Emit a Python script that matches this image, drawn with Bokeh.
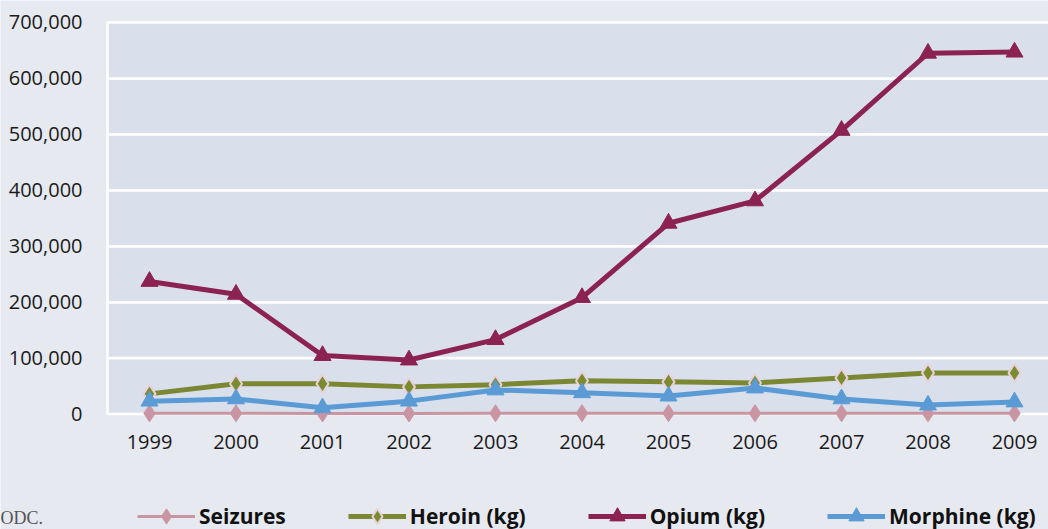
from bokeh.plotting import figure
from bokeh.models import (Range1d, FixedTicker, NumeralTickFormatter, Legend, LegendItem,
                          BoxAnnotation, Label)
from bokeh.embed import file_html
from bokeh.resources import INLINE

years = [1999, 2000, 2001, 2002, 2003, 2004, 2005, 2006, 2007, 2008, 2009]
seizures = [1200, 1300, 900, 1100, 1300, 1400, 1500, 1400, 1300, 1200, 1300]
heroin = [36000, 54000, 54000, 48500, 52500, 59500, 57500, 55500, 64500, 73500, 73500]
opium = [237000, 214000, 104500, 96500, 133000, 208000, 341000, 381000, 507000, 645000, 647000]
morphine = [23000, 27000, 11000, 23000, 43000, 38000, 32000, 46500, 27000, 16000, 21500]
y_ticks = [0, 100000, 200000, 300000, 400000, 500000, 600000, 700000]
series_names = ["Seizures", "Heroin (kg)", "Opium (kg)", "Morphine (kg)"]
source_note = "ODC."

FONT = "Open Sans"
BG = "#e6e9f0"
PLOT_BG = "#d9e0eb"
C_SEI = "#c995a3"
C_HER = "#7c8733"
C_OPI = "#8c2251"
C_MOR = "#5b9bd5"

PLOT_LEFT = 1998.515
p = figure(width=1048, height=529, output_backend="svg", toolbar_location=None,
           x_range=Range1d(1997.2775, 2009.393), y_range=Range1d(-206500, 739300),
           min_border_left=0, min_border_right=0, min_border_top=0, min_border_bottom=0)
p.background_fill_color = BG
p.border_fill_color = BG
p.outline_line_color = None
p.xgrid.grid_line_color = None
p.ygrid.grid_line_color = None

# plot area, banded by the white grid lines
for lo, hi in zip(y_ticks[:-1], y_ticks[1:]):
    p.add_layout(BoxAnnotation(left=PLOT_LEFT, right=2011, bottom=lo, top=hi,
                               fill_color=PLOT_BG, fill_alpha=1, line_color="white",
                               line_width=2.5, line_alpha=1, level="image"))

p.yaxis.ticker = FixedTicker(ticks=y_ticks)
p.yaxis.formatter = NumeralTickFormatter(format="0,0")
p.yaxis.fixed_location = PLOT_LEFT
p.xaxis.ticker = FixedTicker(ticks=years)
p.xaxis.fixed_location = 0

for ax in (p.xaxis, p.yaxis):
    ax.axis_line_color = None
    ax.major_tick_line_color = None
    ax.minor_tick_line_color = None
    ax.major_label_text_font = FONT
    ax.major_label_text_font_size = "20px"
    ax.major_label_text_color = "#1a1a1a"
p.yaxis.major_label_standoff = 19
p.xaxis.major_label_standoff = 15

s_l = p.line(years, seizures, line_color=C_SEI, line_width=3)
s_m = p.scatter(years, seizures, marker="diamond", size=17, fill_color=C_SEI, line_color=C_SEI)
h_l = p.line(years, heroin, line_color=C_HER, line_width=5)
h_m = p.scatter(years, heroin, marker="diamond", size=18, fill_color="#7c8a30",
                line_color="#e8d2da", line_width=2)
o_l = p.line(years, opium, line_color=C_OPI, line_width=5)
o_m = p.scatter(years, opium, marker="triangle", size=17, fill_color=C_OPI, line_color=C_OPI)
m_l = p.line(years, morphine, line_color=C_MOR, line_width=5)
m_m = p.scatter(years, morphine, marker="triangle", size=17, fill_color=C_MOR, line_color=C_MOR)

legend = Legend(items=[LegendItem(label=n, renderers=r) for n, r in
                       zip(series_names, [[s_l, s_m], [h_l, h_m], [o_l, o_m], [m_l, m_m]])],
                orientation="horizontal", location=(137, -6))
legend.background_fill_alpha = 0
legend.border_line_color = None
legend.padding = 0
legend.margin = 0
legend.spacing = 62
legend.glyph_width = 58
legend.glyph_height = 38
legend.label_standoff = 4
legend.label_text_font = FONT
legend.label_text_font_size = "21px"
legend.label_text_font_style = "bold"
legend.label_text_color = "#111111"
p.add_layout(legend, "center")

p.add_layout(Label(x=0, y=12, x_units="screen", y_units="screen", text=source_note,
                   text_baseline="middle", text_font="Liberation Serif", text_font_size="18px",
                   text_color="#555555"))

open("out.html", "w").write(file_html(p, INLINE))
